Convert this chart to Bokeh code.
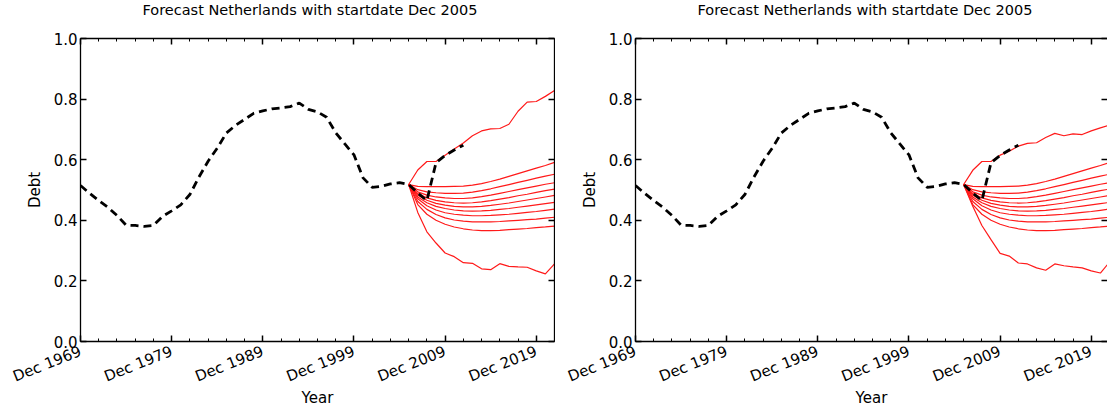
from bokeh.plotting import figure
from bokeh.models import (FixedTicker, LinearAxis, Range1d, PrintfTickFormatter,
                          CustomLabelingPolicy, Div)
from bokeh.layouts import row, column
from bokeh.embed import file_html
from bokeh.resources import INLINE

# ---------------- data ----------------
TITLE = "Forecast Netherlands with startdate Dec 2005"
tick_years = [1969, 1979, 1989, 1999, 2009, 2019]
tick_labels = ["Dec 1969", "Dec 1979", "Dec 1989", "Dec 1999", "Dec 2009", "Dec 2019"]
y_ticks = [0.0, 0.2, 0.4, 0.6, 0.8, 1.0]

hist_years = list(range(1969, 2012))
hist_debt = [0.515, 0.489, 0.465, 0.443, 0.416, 0.384, 0.383, 0.380, 0.383, 0.413,
             0.431, 0.451, 0.485, 0.543, 0.595, 0.638, 0.688, 0.713, 0.733, 0.753,
             0.761, 0.768, 0.771, 0.775, 0.787, 0.766, 0.758, 0.740, 0.689, 0.652,
             0.616, 0.540, 0.509, 0.512, 0.520, 0.524, 0.518, 0.490, 0.465, 0.590,
             0.614, 0.632, 0.648]

fc_years = list(range(2005, 2022))
# central quantile paths (shared by both panels)
fc_mid = [
    [0.518, 0.512, 0.511, 0.511, 0.511, 0.512, 0.513, 0.516, 0.521, 0.528, 0.536, 0.545, 0.554, 0.563, 0.572, 0.581, 0.591],
    [0.518, 0.501, 0.494, 0.491, 0.489, 0.489, 0.490, 0.493, 0.498, 0.504, 0.511, 0.518, 0.525, 0.532, 0.539, 0.546, 0.552],
    [0.518, 0.494, 0.483, 0.477, 0.474, 0.472, 0.472, 0.474, 0.478, 0.483, 0.489, 0.495, 0.501, 0.507, 0.513, 0.519, 0.524],
    [0.518, 0.488, 0.474, 0.466, 0.461, 0.458, 0.457, 0.458, 0.461, 0.465, 0.470, 0.475, 0.481, 0.486, 0.492, 0.498, 0.503],
    [0.518, 0.483, 0.466, 0.456, 0.450, 0.446, 0.444, 0.444, 0.446, 0.449, 0.453, 0.457, 0.462, 0.467, 0.472, 0.477, 0.482],
    [0.518, 0.477, 0.458, 0.446, 0.439, 0.434, 0.431, 0.430, 0.431, 0.433, 0.436, 0.439, 0.443, 0.447, 0.451, 0.455, 0.459],
    [0.518, 0.471, 0.448, 0.434, 0.425, 0.420, 0.417, 0.415, 0.415, 0.416, 0.418, 0.420, 0.423, 0.426, 0.429, 0.433, 0.437],
    [0.518, 0.462, 0.436, 0.419, 0.408, 0.401, 0.397, 0.395, 0.395, 0.395, 0.396, 0.398, 0.400, 0.402, 0.404, 0.407, 0.410],
    [0.518, 0.452, 0.420, 0.400, 0.387, 0.378, 0.372, 0.368, 0.366, 0.366, 0.367, 0.369, 0.371, 0.373, 0.376, 0.378, 0.381],
]
left_top = [0.518, 0.566, 0.594, 0.594, 0.615, 0.635, 0.655, 0.679, 0.695, 0.702, 0.703, 0.717, 0.760, 0.790, 0.792, 0.809, 0.828]
left_bottom = [0.518, 0.426, 0.362, 0.325, 0.292, 0.280, 0.260, 0.258, 0.240, 0.237, 0.257, 0.248, 0.246, 0.245, 0.233, 0.223, 0.256]
right_top = [0.518, 0.565, 0.594, 0.594, 0.615, 0.628, 0.645, 0.654, 0.656, 0.673, 0.687, 0.679, 0.685, 0.683, 0.695, 0.705, 0.714]
right_bottom = [0.518, 0.446, 0.383, 0.336, 0.291, 0.282, 0.259, 0.256, 0.243, 0.235, 0.256, 0.250, 0.246, 0.243, 0.233, 0.226, 0.262]

DEC = 11.0 / 12.0
FONT = "DejaVu Sans"
X_START = hist_years[0] + DEC
X_FULL_END = fc_years[-1] + DEC

NO_LABELS = CustomLabelingPolicy(code="""
const all = Array.from(indices)
for (const i of all) { indices.unset(i) }
return indices
""")


def style_axis(ax, show_labels, line=True):
    ax.axis_line_color = "black" if line else None
    ax.axis_line_width = 1.3
    ax.major_tick_in = 6
    ax.major_tick_out = 0
    ax.minor_tick_in = 3
    ax.minor_tick_out = 0
    ax.major_tick_line_width = 1.5
    ax.minor_tick_line_width = 1
    ax.major_tick_line_color = "black"
    ax.minor_tick_line_color = "black"
    ax.major_label_text_color = "black"
    ax.axis_label_text_color = "black"
    if not show_labels:
        ax.major_label_text_font_size = "0px"
        ax.major_label_standoff = 0
        ax.major_label_policy = NO_LABELS
        ax.axis_label = None


def make_panel(top, bottom, width, x_end, border_right, right_line):
    p = figure(width=width, height=392, output_backend="svg", toolbar_location=None,
               x_range=Range1d(X_START, x_end), y_range=Range1d(0, 1),
               min_border_left=80, min_border_right=border_right,
               min_border_top=18, min_border_bottom=71,
               x_axis_location=None, y_axis_location=None)
    p.grid.visible = False
    p.outline_line_color = None

    xmaj = [y + DEC for y in tick_years]
    xmin = [X_START + 2 * k for k in range(27)]
    xt = FixedTicker(ticks=xmaj, minor_ticks=xmin)
    yt = FixedTicker(ticks=y_ticks, minor_ticks=[])

    xb = LinearAxis(ticker=xt, axis_label="Year")
    xb.major_label_overrides = {xv: lab for xv, lab in zip(xmaj, tick_labels)}
    style_axis(xb, True)
    xb.major_label_orientation = 0.38
    xb.major_label_text_font = FONT
    xb.major_label_text_font_size = "15px"
    xb.major_label_standoff = 9
    xb.axis_label_text_font = FONT
    xb.axis_label_text_font_size = "15px"
    xb.axis_label_text_font_style = "normal"
    xb.axis_label_standoff = -8
    p.add_layout(xb, "below")

    xa = LinearAxis(ticker=xt)
    style_axis(xa, False)
    p.add_layout(xa, "above")

    yl = LinearAxis(ticker=yt, axis_label="Debt", formatter=PrintfTickFormatter(format="%.1f"))
    style_axis(yl, True)
    yl.minor_tick_in = 0
    yl.major_label_text_font = FONT
    yl.major_label_text_font_size = "15px"
    yl.major_label_standoff = 3
    yl.axis_label_text_font = FONT
    yl.axis_label_text_font_size = "15px"
    yl.axis_label_text_font_style = "normal"
    yl.axis_label_standoff = 7
    p.add_layout(yl, "left")

    yr = LinearAxis(ticker=yt)
    style_axis(yr, False, line=right_line)
    yr.minor_tick_in = 0
    p.add_layout(yr, "right")

    fx = [y + DEC for y in fc_years]
    for series in [top] + fc_mid + [bottom]:
        p.line(fx, series, line_color="#ff1a1a", line_width=1.2)
    hx = [y + DEC for y in hist_years]
    p.line(hx, hist_debt, line_color="black", line_width=2.8, line_dash="8 5")
    return p


def title_div(width, center):
    pad_left = 2 * center - width
    html = ('<div style="width:%dpx;height:20px;line-height:20px;text-align:center;'
            'font-family:\'DejaVu Sans\';font-size:14.5px;color:black;'
            'padding-left:%dpx;box-sizing:border-box;white-space:nowrap;">%s</div>'
            % (width, pad_left, TITLE))
    return Div(text=html, width=width, height=20, margin=0)


left = make_panel(left_top, left_bottom, 555, X_FULL_END, 1, True)
right = make_panel(right_top, right_bottom, 552, X_FULL_END - 2 / 9.12, 0, False)

layout = column(row(title_div(555, 310), title_div(552, 310), spacing=0),
                row(left, right, spacing=0), spacing=0)
open("out.html", "w").write(file_html(layout, INLINE))
